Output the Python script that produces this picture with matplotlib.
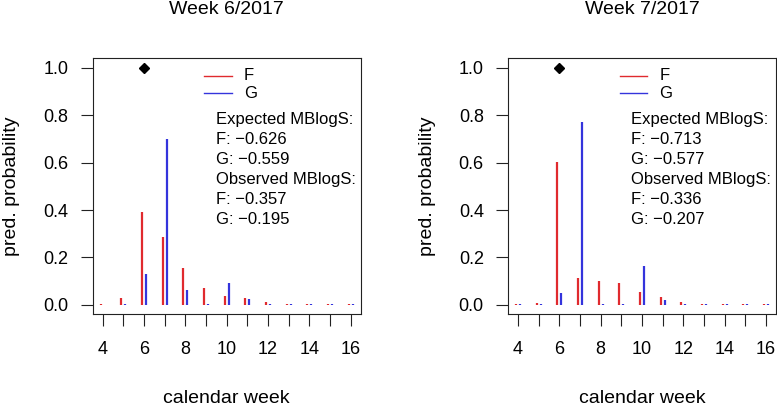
import matplotlib
matplotlib.use("Agg")
import matplotlib.pyplot as plt
import numpy as np

plt.rcParams['font.family'] = ['Liberation Sans', 'DejaVu Sans']

# calendar weeks shown on the x axis
weeks = np.arange(4, 17)

# week 6/2017 predictive probabilities
f_w6 = [0.002, 0.028, 0.393, 0.287, 0.156, 0.073, 0.039, 0.027, 0.012, 0.004, 0.002, 0.002, 0.002]
g_w6 = [0.001, 0.003, 0.131, 0.700, 0.062, 0.003, 0.093, 0.025, 0.003, 0.003, 0.002, 0.002, 0.002]
# week 7/2017 predictive probabilities
f_w7 = [0.003, 0.008, 0.603, 0.113, 0.101, 0.092, 0.054, 0.034, 0.014, 0.003, 0.003, 0.003, 0.003]
g_w7 = [0.002, 0.003, 0.049, 0.770, 0.004, 0.003, 0.165, 0.021, 0.003, 0.003, 0.003, 0.003, 0.003]

observed_week = [6, 6]
titles = ["Week 6/2017", "Week 7/2017"]
expected = [("−0.626", "−0.559"), ("−0.713", "−0.577")]
observed = [("−0.357", "−0.195"), ("−0.336", "−0.207")]

RED = '#e02a2e'
BLUE = '#3434dc'

fig = plt.figure(figsize=(7.77, 4.11), dpi=100)
lefts = [92.7 / 777, 508 / 777]
w = 268 / 777
b = 1 - 314.3 / 411
h = 256 / 411

panels = [(f_w6, g_w6), (f_w7, g_w7)]
for i in range(2):
    ax = fig.add_axes([lefts[i], b, w, h])
    f, g = panels[i]
    ax.vlines(weeks - 0.1, 0, f, color=RED, lw=1.6)
    ax.vlines(weeks + 0.1, 0, g, color=BLUE, lw=1.6)
    ax.plot([observed_week[i]], [1.0], marker='D', color='black', markersize=5.5, ls='none')

    ax.set_xlim(3.52, 16.48)
    ax.set_ylim(-0.04, 1.04)
    ax.set_xticks(weeks)
    ax.set_xticklabels([str(x) if x % 2 == 0 else '' for x in weeks])
    ax.set_yticks([0, 0.2, 0.4, 0.6, 0.8, 1.0])
    ax.set_yticklabels(['0.0', '0.2', '0.4', '0.6', '0.8', '1.0'])
    ax.tick_params(axis='both', labelsize=13, length=8.4, width=0.8, color='#222222')
    ax.tick_params(axis='x', pad=10.5)
    ax.tick_params(axis='y', pad=9)
    for s in ax.spines.values():
        s.set_linewidth(0.8)
        s.set_color('#222222')

    ax.set_xlabel('calendar week', fontsize=14, va='center')
    ax.xaxis.set_label_coords(0.5, -0.327)
    ax.set_ylabel('pred. probability', fontsize=14, va='center')
    ax.yaxis.set_label_coords(-0.302, 0.5)
    ax.text(0.5, 1.189, titles[i], transform=ax.transAxes, ha='center', va='center', fontsize=14)

    # legend
    ax.plot([0.4164, 0.5187], [0.932, 0.932], color=RED, lw=1, transform=ax.transAxes, clip_on=False)
    ax.plot([0.4164, 0.5187], [0.863, 0.863], color=BLUE, lw=1, transform=ax.transAxes, clip_on=False)
    ax.text(0.5646, 0.932, 'F', transform=ax.transAxes, va='center', fontsize=12)
    ax.text(0.5646, 0.863, 'G', transform=ax.transAxes, va='center', fontsize=12)

    lines = ['Expected MBlogS:', 'F: ' + expected[i][0], 'G: ' + expected[i][1],
             'Observed MBlogS:', 'F: ' + observed[i][0], 'G: ' + observed[i][1]]
    for k, t in enumerate(lines):
        ax.text(0.459, 0.762 - k * 0.0787, t, transform=ax.transAxes, va='center', fontsize=12)

fig.savefig('out.png', dpi=100)
